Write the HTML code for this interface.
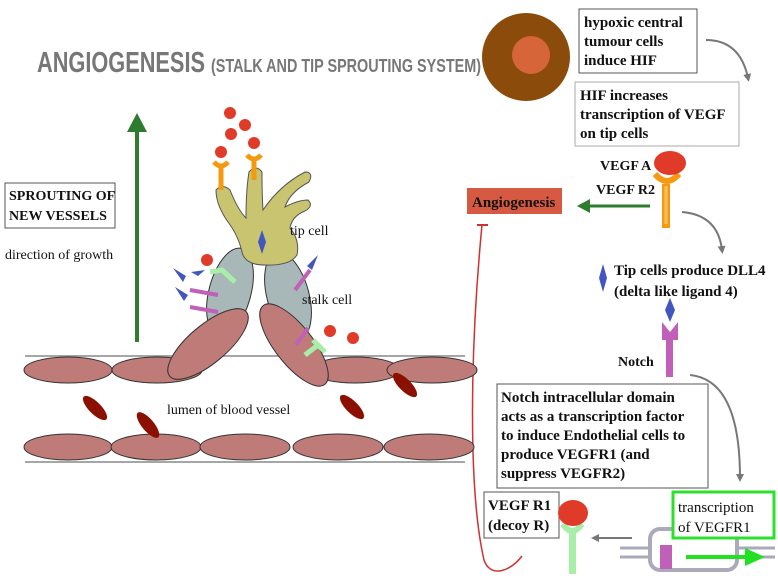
<!DOCTYPE html>
<html><head><style>body{margin:0;background:#fff}svg{display:block}text{font-family:"Liberation Serif",serif;fill:#111}</style></head><body>
<svg width="778" height="583" viewBox="0 0 778 583" xmlns="http://www.w3.org/2000/svg">
<defs>
<marker id="ag" markerWidth="8" markerHeight="8" refX="4" refY="4" orient="auto" markerUnits="userSpaceOnUse"><path d="M0,0 L8,4 L0,8 z" fill="#777"/></marker>
</defs>
<text x="37" y="72" style="font-family:'Liberation Sans Narrow','Liberation Sans',sans-serif;font-weight:bold;font-size:29px;fill:#777" textLength="168" lengthAdjust="spacingAndGlyphs">ANGIOGENESIS</text>
<text x="211" y="72" style="font-family:'Liberation Sans Narrow','Liberation Sans',sans-serif;font-weight:bold;font-size:18px;fill:#777" textLength="270" lengthAdjust="spacingAndGlyphs">(STALK AND TIP SPROUTING SYSTEM)</text>
<circle cx="526" cy="57" r="44" fill="#8B4C0B"/><circle cx="531" cy="55" r="19" fill="#D6653A"/>
<rect x="579" y="9" width="118" height="64" fill="#fff" stroke="#555"/>
<text font-size="15" font-weight="bold"><tspan x="584" y="27">hypoxic central</tspan><tspan x="584" y="46">tumour cells</tspan><tspan x="584" y="65">induce HIF</tspan></text>
<path d="M706,40 Q740,40 748,78" fill="none" stroke="#777" stroke-width="2" marker-end="url(#ag)"/>
<rect x="575" y="82" width="164" height="64" fill="#fff" stroke="#aaa"/>
<text font-size="15" font-weight="bold"><tspan x="580" y="100">HIF increases</tspan><tspan x="580" y="119">transcription of VEGF</tspan><tspan x="580" y="138">on tip cells</tspan></text>
<text x="600" y="170" font-size="14" font-weight="bold">VEGF A</text>
<text x="596" y="194" font-size="14" font-weight="bold">VEGF R2</text>
<path d="M655,174 Q667,188 679,174" fill="none" stroke="#F59A10" stroke-width="6"/>
<rect x="662" y="184" width="8" height="44" fill="#F59A10"/><rect x="664.5" y="186" width="3" height="38" fill="#FFC060"/>
<ellipse cx="670" cy="163" rx="16" ry="12" fill="#E03B28"/>
<rect x="467" y="188" width="95" height="26" fill="#D65A42"/>
<text x="472" y="207" font-size="15" font-weight="bold">Angiogenesis</text>
<line x1="650" y1="206" x2="585" y2="206" stroke="#2E7D2E" stroke-width="3"/><path d="M577,206 L590,199 L590,213z" fill="#2E7D2E"/>
<path d="M682,212 Q718,215 722,250" fill="none" stroke="#777" stroke-width="2" marker-end="url(#ag)"/>
<path d="M603,264 L607,278 L603,292 L599,278z" fill="#4356C0"/>
<text font-size="15" font-weight="bold"><tspan x="614" y="275">Tip cells produce DLL4</tspan><tspan x="614" y="296">(delta like ligand 4)</tspan></text>
<path d="M670,298 L675,310 L670,322 L665,310z" fill="#4356C0"/>
<path d="M662,322 L670,332 L678,322 L678,340 L673,340 L673,377 L666,377 L666,340 L662,340z" fill="#C060B8"/>
<text x="618" y="366" font-size="14" font-weight="bold">Notch</text>
<path d="M690,375 Q740,380 740,478" fill="none" stroke="#777" stroke-width="2" marker-end="url(#ag)"/>
<rect x="497" y="384" width="211" height="104" fill="#fff" stroke="#555"/>
<text font-size="15" font-weight="bold"><tspan x="501" y="402">Notch intracellular domain</tspan><tspan x="501" y="421">acts as a transcription factor</tspan><tspan x="501" y="440">to induce Endothelial cells to</tspan><tspan x="501" y="459">produce VEGFR1 (and</tspan><tspan x="501" y="478">suppress VEGFR2)</tspan></text>
<rect x="484" y="492" width="75" height="46" fill="#fff" stroke="#555"/>
<text font-size="15" font-weight="bold"><tspan x="488" y="510">VEGF R1</tspan><tspan x="488" y="530">(decoy R)</tspan></text>
<path d="M563,524 Q572,538 582,524" fill="none" stroke="#A8EEA8" stroke-width="6"/>
<rect x="569" y="532" width="7" height="42" fill="#A8EEA8"/>
<ellipse cx="573" cy="513" rx="15" ry="13" fill="#E03B28"/>
<line x1="632" y1="538" x2="595" y2="538" stroke="#777" stroke-width="2" marker-end="url(#ag)"/>
<line x1="620" y1="548" x2="775" y2="548" stroke="#aab" stroke-width="3"/><line x1="620" y1="557" x2="775" y2="557" stroke="#aab" stroke-width="3"/>
<rect x="650" y="529" width="87" height="41" rx="10" fill="#fff" stroke="#aab" stroke-width="4"/>
<rect x="660" y="545" width="12" height="24" fill="#C060B8"/>
<line x1="686" y1="557" x2="750" y2="557" stroke="#22e022" stroke-width="4"/><path d="M765,557 L745,548 L745,566z" fill="#22e022"/>
<rect x="673" y="492" width="101" height="46" fill="#fff" stroke="#2ee02e" stroke-width="3"/>
<text font-size="15"><tspan x="678" y="512">transcription</tspan><tspan x="678" y="532">of VEGFR1</tspan></text>
<path d="M482,225 C470,350 468,490 484,560 C490,578 510,572 522,556" fill="none" stroke="#D03030" stroke-width="1.5"/>
<line x1="477" y1="225" x2="488" y2="225" stroke="#D03030" stroke-width="2"/>
<line x1="137" y1="342" x2="137" y2="130" stroke="#2E7D2E" stroke-width="4"/><path d="M137,113 L127,132 L147,132z" fill="#2E7D2E"/>
<rect x="5" y="183" width="110" height="45" fill="#fff" stroke="#555"/>
<text font-size="14" font-weight="bold"><tspan x="9" y="200">SPROUTING OF</tspan><tspan x="9" y="220">NEW VESSELS</tspan></text>
<text x="5" y="259" font-size="14">direction of growth</text>
<line x1="25" y1="356" x2="465" y2="356" stroke="#888" stroke-width="1.5"/>
<line x1="25" y1="462" x2="465" y2="462" stroke="#888" stroke-width="1.5"/>
<g fill="#BF7B78" stroke="#333" stroke-width="1">
<ellipse cx="68" cy="370" rx="44" ry="13"/><ellipse cx="157" cy="370" rx="45" ry="13"/>
<ellipse cx="355" cy="370" rx="45" ry="13"/><ellipse cx="432" cy="370" rx="45" ry="13"/>
<ellipse cx="68" cy="447" rx="44" ry="13"/><ellipse cx="156" cy="447" rx="45" ry="13"/><ellipse cx="245" cy="447" rx="45" ry="13"/><ellipse cx="338" cy="447" rx="45" ry="13"/><ellipse cx="429" cy="447" rx="45" ry="13"/>
</g>
<g fill="#8B1000">
<ellipse cx="95" cy="408" rx="16" ry="6" transform="rotate(45 95 408)"/><ellipse cx="148" cy="425" rx="16" ry="6" transform="rotate(50 148 425)"/>
<ellipse cx="352" cy="407" rx="16" ry="6" transform="rotate(45 352 407)"/><ellipse cx="405" cy="385" rx="16" ry="6" transform="rotate(45 405 385)"/>
</g>
<g fill="#A8B8B8" stroke="#333">
<ellipse cx="230" cy="292" rx="21" ry="45" transform="rotate(15 230 292)"/>
<ellipse cx="288" cy="296" rx="21" ry="45" transform="rotate(-15 288 296)"/>
</g>
<g fill="#BF7B78" stroke="#333">
<ellipse cx="208" cy="344" rx="50" ry="19" transform="rotate(-40 208 344)"/>
<ellipse cx="294" cy="345" rx="50" ry="19" transform="rotate(52 294 345)"/>
</g>
<path d="M216,190 Q222,183 230,190 Q238,210 246,218 Q246,190 249,172 Q256,164 262,172 Q262,195 263,210 Q280,185 305,172 Q314,172 309,182 Q290,192 285,207 Q298,200 308,200 Q314,206 305,211 Q292,216 290,228 Q300,240 297,255 Q290,266 265,265 Q245,265 242,252 Q238,235 228,222 Q216,205 216,190z" fill="#C8C470" stroke="#555"/>
<path d="M262,230 L266,242 L262,254 L258,242z" fill="#4356C0"/>
<g stroke="#F59A10" stroke-width="5" fill="none"><path d="M214,162 Q221,170 228,162"/><line x1="221" y1="166" x2="221" y2="190"/><path d="M247,155 Q254,163 261,155"/><line x1="254" y1="159" x2="254" y2="180"/></g>
<g fill="#E03B28"><circle cx="230" cy="113" r="6"/><circle cx="245" cy="125" r="6"/><circle cx="231" cy="134" r="6"/><circle cx="254" cy="143" r="6"/><circle cx="221" cy="152" r="6"/><circle cx="207" cy="260" r="6"/><circle cx="330" cy="331" r="6"/><circle cx="353" cy="338" r="6"/></g>
<g fill="#4356C0"><path d="M173,268 L186,276 L183,282 Z"/><path d="M175,287 L188,295 L184,301 Z"/><path d="M318,255 L312,270 L307,266 Z"/><path d="M205,270 L198,276 L191,272z"/></g>
<g stroke="#C060B8" stroke-width="4" fill="none"><line x1="190" y1="290" x2="218" y2="295"/><line x1="190" y1="307" x2="218" y2="312"/><line x1="295" y1="290" x2="310" y2="270"/><line x1="296" y1="345" x2="308" y2="328"/></g>
<g stroke="#A8EEA8" stroke-width="5" fill="none"><path d="M210,272 L222,270 L235,282"/><path d="M305,355 L318,345 M313,340 L325,352"/></g>
<text x="290" y="235" font-size="14">tip cell</text>
<text x="302" y="304" font-size="14">stalk cell</text>
<text x="167" y="414" font-size="14">lumen of blood vessel</text>
</svg>
</body></html>
